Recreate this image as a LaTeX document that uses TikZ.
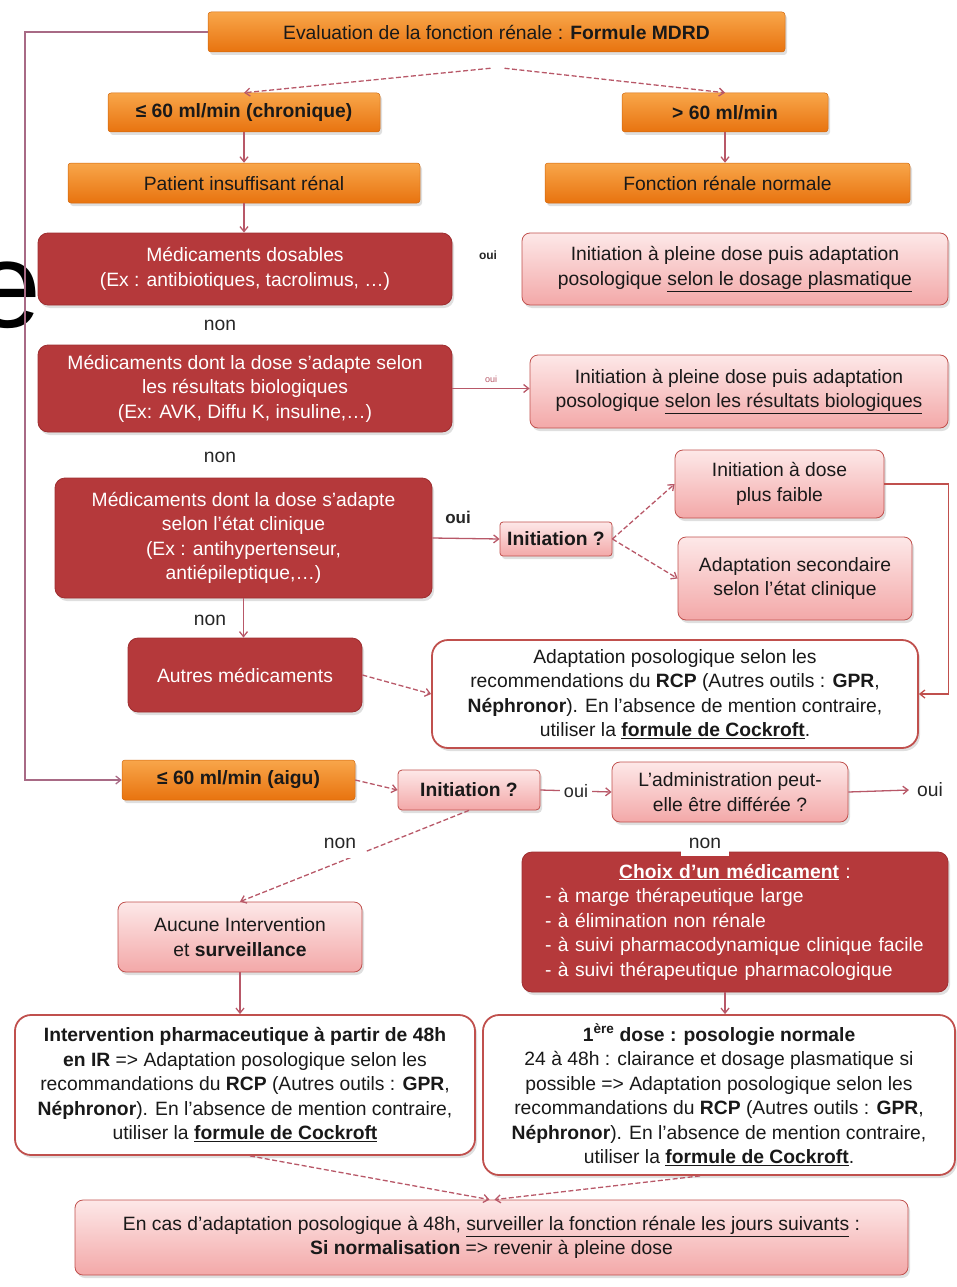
\documentclass[tikz,border=0pt]{standalone}
\usepackage{fontspec}
\setmainfont{Liberation Sans}
\usetikzlibrary{shadows,arrows.meta}
\definecolor{orA}{HTML}{F8A64A}
\definecolor{orB}{HTML}{E8730F}
\definecolor{dred}{HTML}{B5393B}
\definecolor{dredB}{HTML}{9E2E30}
\definecolor{pkA}{HTML}{FDE8E8}
\definecolor{pkB}{HTML}{F3A8A8}
\definecolor{rbord}{HTML}{C0504D}
\definecolor{conn}{HTML}{B85868}
\definecolor{loopc}{HTML}{A86A85}
\begin{document}
\begin{tikzpicture}[x=1pt,y=-1pt,
  font=\fontsize{19.3}{24.5}\selectfont,
  sz/.style 2 args={minimum width=#1pt, minimum height=#2pt},
  shd/.style={drop shadow={shadow xshift=2pt, shadow yshift=-3pt, opacity=0.25}},
  obox/.style={shd, top color=orA, bottom color=orB, draw=orB!90!black, line width=0.5pt, rounded corners=3pt, text=black!90, inner sep=2pt, align=center},
  rbox/.style={shd, fill=dred, draw=dredB, line width=0.8pt, rounded corners=10pt, text=white, inner sep=2pt, align=center},
  pbox/.style={shd, top color=pkA, bottom color=pkB, draw=rbord, line width=0.8pt, rounded corners=8pt, text=black!90, inner sep=2pt, align=center},
  wbox/.style={shd, fill=white, draw=rbord, line width=1.8pt, rounded corners=16pt, text=black!90, inner sep=2pt, align=center},
  lbl/.style={fill=white, inner sep=4pt, text=black!85},
  arr/.style={conn, line width=1.3pt, -{Straight Barb[length=5pt,width=8pt]}},
  darr/.style={arr, dash pattern=on 5pt off 2.5pt},
  ]
\useasboundingbox (0,0) rectangle (957,1287);
% stray fragment
\node[anchor=base east, inner sep=0, font=\fontsize{122}{122}\selectfont] (frag) at (42,327) {e};

% top
\node[obox, sz={577}{40}] (eval) at (496.5,32) {Evaluation de la fonction rénale : \textbf{Formule MDRD}};
\node[obox, sz={272}{39}] (chron) at (244,112.5) {\textbf{≤ 60 ml/min (chronique)}};
\node[obox, sz={206}{39}] (norm) at (725,112.5) {\textbf{> 60 ml/min}};
\node[obox, sz={352}{40}] (patient) at (244,183) {Patient insuffisant rénal};
\node[obox, sz={365}{40}] (fonction) at (727.5,183) {Fonction rénale normale};

% drug classes
\node[rbox, sz={414}{72}] (dosables) at (245,269) {Médicaments dosables\\(Ex : antibiotiques, tacrolimus, …)};
\node[pbox, sz={426}{72}] (init1) at (735,269) {Initiation à pleine dose puis adaptation\\posologique \underline{selon le dosage plasmatique}};
\node[rbox, sz={414}{87}] (bio) at (245,388.5) {Médicaments dont la dose s'adapte selon\\les résultats biologiques\\(Ex: AVK, Diffu K, insuline,…)};
\node[pbox, sz={418}{73}] (init2) at (739,391.5) {Initiation à pleine dose puis adaptation\\posologique \underline{selon les résultats biologiques}};
\node[rbox, sz={377}{120}] (clin) at (243.5,538) {Médicaments dont la dose s'adapte\\selon l'état clinique\\(Ex : antihypertenseur,\\antiépileptique,…)};
\node[pbox, sz={112}{34}, rounded corners=3pt] (initq) at (556,539) {\textbf{Initiation ?}};
\node[pbox, sz={209}{68}] (low) at (779.5,484) {Initiation à dose\\plus faible};
\node[pbox, sz={234}{83}] (sec) at (795,578.5) {Adaptation secondaire\\selon l'état clinique};
\node[rbox, sz={234}{74}] (autres) at (245,675) {Autres médicaments};
\node[wbox, sz={486}{108}] (rcp) at (675,694) {Adaptation posologique selon les\\recommendations du \textbf{RCP} (Autres outils : \textbf{GPR},\\\textbf{Néphronor}). En l'absence de mention contraire,\\utiliser la \underline{\textbf{formule de Cockroft}}.};

% acute
\node[obox, sz={233}{40}] (aigu) at (238.5,780) {\textbf{≤ 60 ml/min (aigu)}};
\node[pbox, sz={142}{40}, rounded corners=4pt] (initq2) at (469,790) {\textbf{Initiation ?}};
\node[pbox, sz={236}{60}] (admin) at (730,792) {L'administration peut-\\elle être différée ?};
\node[lbl, inner sep=8pt] (oui5) at (930,790) {oui};
\node[rbox, sz={426}{140}, text width=380pt, align=left] (choix) at (735,922) {\makebox[\linewidth][c]{\underline{\textbf{Choix d'un médicament}} :}\\- à marge thérapeutique large\\- à élimination non rénale\\- à suivi pharmacodynamique clinique facile\\- à suivi thérapeutique pharmacologique};
\node[pbox, sz={244}{70}] (aucune) at (240,937) {Aucune Intervention\\et \textbf{surveillance}};
\node[wbox, sz={460}{140}] (interv) at (245,1085) {\textbf{Intervention pharmaceutique à partir de 48h}\\\textbf{en IR} => Adaptation posologique selon les\\recommandations du \textbf{RCP} (Autres outils : \textbf{GPR},\\\textbf{Néphronor}). En l'absence de mention contraire,\\utiliser la \underline{\textbf{formule de Cockroft}}};
\node[wbox, sz={472}{160}] (dose1) at (719,1095) {\textbf{1\textsuperscript{ère} dose : posologie normale}\\24 à 48h : clairance et dosage plasmatique si\\possible => Adaptation posologique selon les\\recommandations du \textbf{RCP} (Autres outils : \textbf{GPR},\\\textbf{Néphronor}). En l'absence de mention contraire,\\utiliser la \underline{\textbf{formule de Cockroft}}.};
\node[pbox, sz={833}{75}] (final) at (491.5,1237.5) {En cas d'adaptation posologique à 48h, \underline{surveiller la fonction rénale les jours suivants} :\\\textbf{Si normalisation} => revenir à pleine dose};

% connectors
\draw[darr] ([xshift=-6pt,yshift=-16pt]eval.south) -- (chron.north);
\draw[darr] ([xshift=8pt,yshift=-16pt]eval.south) -- (norm.north);
\draw[arr] (chron.south) -- (patient.north);
\draw[arr] (norm.south) -- (norm.south |- fonction.north);
\draw[arr] (patient.south) -- (patient.south |- dosables.north);
\draw[arr] (bio.east) -- (bio.east -| init2.west) node[midway, above=3pt, fill=white, inner sep=2pt, font=\fontsize{9}{9}\selectfont] (l2) {oui};
\draw[arr] (clin.east) -- (initq.west);
\draw[darr] (initq.east) -- (low.west);
\draw[darr] (initq.east) -- (sec.west);
\draw[arr, rbord] (low.east) -- ++(64,0) |- (rcp.east);
\draw[arr] (clin.south) -- (clin.south |- autres.north);
\draw[darr] (autres.east) -- (rcp.west);
\draw[arr, loopc] (eval.west) -- (25,32) |- (aigu.west);
\draw[darr] (aigu.east) -- (initq2.west);
\draw[arr] (initq2.east) -- (admin.west) node[lbl, midway, font=\fontsize{18}{18}\selectfont] (l4) {oui};
\draw[arr] (admin.east) -- (oui5.west);
\draw[darr] (initq2.south) -- (aucune.north);
\draw[arr] (aucune.south) -- (aucune.south |- interv.north);
\draw[arr] ([xshift=-10pt]choix.south) -- ([xshift=-10pt]choix.south |- dose1.north);
\draw[darr] ([xshift=5pt]interv.south) -- ([xshift=-2pt]final.north);
\draw[darr] ([xshift=-19pt]dose1.south) -- ([xshift=3pt]final.north);

% labels
\node[lbl, font=\fontsize{12}{12}\bfseries] (l1) at (488,255) {oui};
\node[lbl, inner sep=8pt] (n1) at (220,325) {non};
\node[lbl, inner sep=8pt] (n2) at (220,457) {non};
\node[lbl, font=\fontsize{17}{17}\bfseries] (l3) at (458,517) {oui};
\node[lbl] (n3) at (210,620) {non};
\node[lbl, inner sep=10pt] (n4) at (340,843) {non};
\node[lbl, inner sep=8pt] (n5) at (705,843) {non};
\end{tikzpicture}
\end{document}
